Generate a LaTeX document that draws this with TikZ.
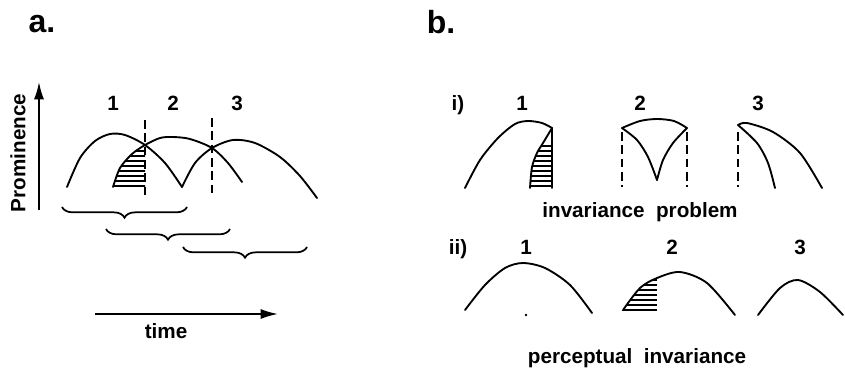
\documentclass[tikz,border=0pt]{standalone}
\usepackage{fontspec}
\setmainfont{Liberation Sans}
\usetikzlibrary{arrows.meta,decorations.pathreplacing}
\begin{document}
\begin{tikzpicture}[x=0.75pt,y=-0.75pt,
  curve/.style={line width=1.4pt, line cap=round},
  dline/.style={line width=1.5pt, dash pattern=on 6.5pt off 3.5pt},
  hatch/.style={line width=0.8pt},
  brc/.style={line width=1.3pt, decorate, decoration={brace, mirror, amplitude=8pt}},
  axis/.style={line width=1.3pt, -{Latex[length=13pt,width=7.5pt]}},
  lbl/.style={font=\bfseries\fontsize{15.5}{15.5}\selectfont, inner sep=0pt},
  rom/.style={lbl, text depth=0pt},
  big/.style={font=\bfseries\fontsize{24}{24}\selectfont, inner sep=0pt}]
\useasboundingbox (0,0) rectangle (845,369);

% ---------- panel a ----------
\node[big] (la) at (42,24) {a.};
\node[lbl, rotate=90] (prom) at (18,153) {Prominence};
\coordinate (pb) at (39,210);
\coordinate (pt) at (39,82);
\draw[axis] (pb) -- (pt);

\node[lbl] (a1) at (113,103) {1};
\node[lbl] (a2) at (173,103) {2};
\node[lbl] (a3) at (237,103) {3};

% hatching
\begin{scope}
  \clip plot[smooth] coordinates {(113,187)(120,168)(132,154)(145,145)} -- (145,189) -- (110,189) -- cycle;
  \foreach \y in {151,156,...,187} \draw[hatch] (105,\y) -- (146,\y);
\end{scope}

\draw[curve] plot[smooth] coordinates {(67,187)(80,158)(95,141)(110,134)(125,135)(145,145)(165,163)(182,187)};
\draw[curve] plot[smooth] coordinates {(113,187)(120,168)(132,154)(145,145)(160,138)(173,137)(190,139)(212,148)(228,163)(242,182)};
\draw[curve] plot[smooth] coordinates {(182,187)(195,163)(212,148)(233,140)(255,143)(280,157)(300,176)(317,198)};

\coordinate (d1t) at (145,120); \coordinate (d1b) at (145,195);
\coordinate (d2t) at (212,118); \coordinate (d2b) at (212,197);
\draw[dline] (d1t) -- (d1b);
\draw[dline] (d2t) -- (d2b);

\coordinate (b1l) at (62,207); \coordinate (b1r) at (187,207);
\coordinate (b2l) at (106,229); \coordinate (b2r) at (230,229);
\coordinate (b3l) at (183,247); \coordinate (b3r) at (307,247);
\draw[brc] (b1l) -- (b1r);
\draw[brc] (b2l) -- (b2r);
\draw[brc] (b3l) -- (b3r);

\coordinate (tl) at (95,314); \coordinate (tr) at (278,314);
\draw[axis] (tl) -- (tr);
\node[lbl] (time) at (166,331) {time};

% ---------- panel b ----------
\node[big] (lb) at (441,22) {b.};

\node[rom] (ri) at (458,103) {i)};
\node[lbl] (i1) at (522,103) {1};
\node[lbl] (i2) at (640,103) {2};
\node[lbl] (i3) at (758,103) {3};

% i) 1
\begin{scope}
  \clip plot[smooth] coordinates {(530,188)(532,167)(537,153)(543,143)(552,128)} -- (552,190) -- (528,190) -- cycle;
  \foreach \y in {146,151,...,188} \draw[hatch] (525,\y) -- (553,\y);
\end{scope}
\draw[curve] plot[smooth] coordinates {(465,188)(480,160)(498,138)(515,124)(528,121)(542,123)(552,128)};
\draw[curve] plot[smooth] coordinates {(530,188)(532,167)(537,153)(543,143)(552,128)};
\draw[curve] (552,128) -- (552,188);

% i) 2
\draw[dline] (622,132) -- (622,187);
\draw[dline] (687,132) -- (687,187);
\draw[curve] plot[smooth] coordinates {(622,128)(640,121)(657,119)(674,121)(687,128)};
\draw[curve] plot[smooth] coordinates {(622,128)(637,140)(648,157)(657,180)};
\draw[curve] plot[smooth] coordinates {(687,128)(673,143)(663,160)(657,180)};

% i) 3
\draw[dline] (738,132) -- (738,187);
\draw[curve] plot[smooth] coordinates {(738,125)(747,123)(773,132)(800,153)(822,188)};
\draw[curve] plot[smooth] coordinates {(738,125)(757,143)(768,163)(775,188)};

\node[lbl] (inv) at (640,212) {invariance\ \ problem};

% ii)
\node[rom] (rii) at (458,247) {ii)};
\node[lbl] (j1) at (526,247) {1};
\node[lbl] (j2) at (672,247) {2};
\node[lbl] (j3) at (800,247) {3};

\draw[curve] plot[smooth] coordinates {(465,310)(485,285)(505,268)(523,263)(545,268)(570,285)(592,313)};
\fill (526,315) circle (1pt);

\begin{scope}
  \clip plot[smooth] coordinates {(623,310)(640,288)(657,278)(680,272)} -- (657,312) -- (620,312) -- cycle;
  \foreach \y in {280,285,...,310} \draw[hatch] (615,\y) -- (657,\y);
\end{scope}
\draw[curve] plot[smooth] coordinates {(623,310)(640,288)(657,278)(680,272)(707,283)(735,315)};

\draw[curve] plot[smooth] coordinates {(758,315)(780,288)(798,280)(820,292)(843,315)};

\node[lbl] (perc) at (637,358) {perceptual\ \ invariance};
\end{tikzpicture}
\end{document}
